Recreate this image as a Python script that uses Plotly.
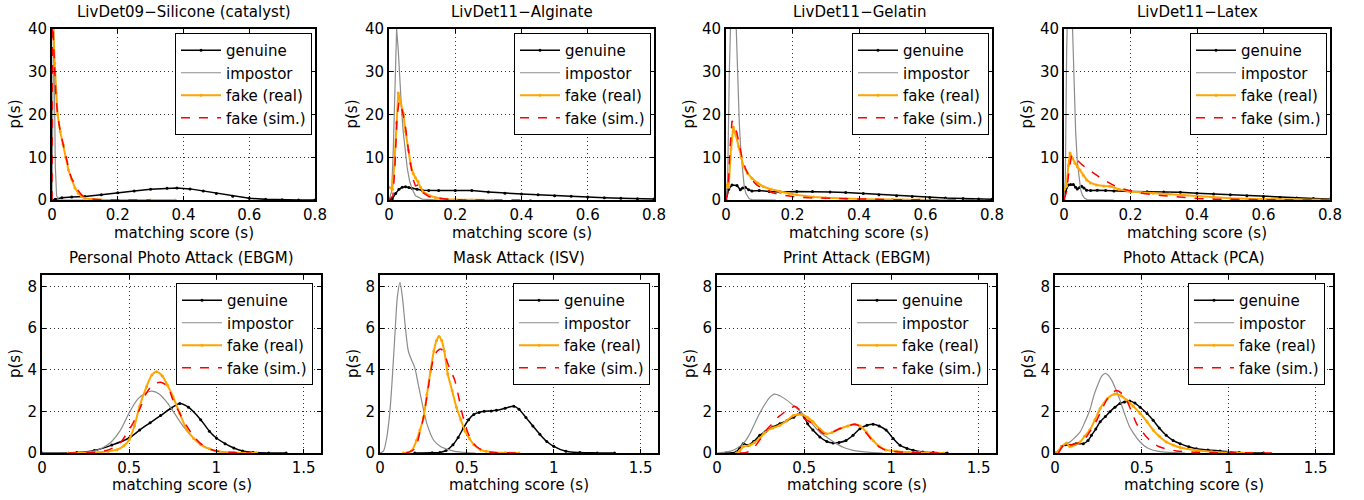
import plotly.graph_objects as go

# ---------------- DATA ----------------
titles = ["LivDet09−Silicone (catalyst)", "LivDet11−Alginate", "LivDet11−Gelatin", "LivDet11−Latex",
          "Personal Photo Attack (EBGM)", "Mask Attack (ISV)", "Print Attack (EBGM)", "Photo Attack (PCA)"]
series_names = ["genuine", "impostor", "fake (real)", "fake (sim.)"]
top_xticks = [0, 0.2, 0.4, 0.6, 0.8]
top_yticks = [0, 10, 20, 30, 40]
bot_xticks = [0, 0.5, 1, 1.5]
bot_yticks = [0, 2, 4, 6, 8]

# Panel 1: LivDet09-Silicone
p1_gen_x = [0, 0.01, 0.03, 0.06, 0.1, 0.15, 0.2, 0.25, 0.3, 0.35, 0.38, 0.42, 0.46, 0.5, 0.55, 0.6, 0.65, 0.7, 0.75, 0.8]
p1_gen_y = [0, 0.2, 0.5, 0.7, 0.8, 1.2, 1.7, 2.1, 2.5, 2.75, 2.8, 2.6, 2.1, 1.5, 0.9, 0.4, 0.15, 0.04, 0.01, 0]
p1_imp_x = [0, 0.003, 0.005, 0.007, 0.01, 0.014, 0.02, 0.1]
p1_imp_y = [0, 20, 45, 30, 8, 1, 0, 0]
p1_fr_x = [0, 0.003, 0.008, 0.012, 0.017, 0.025, 0.034, 0.042, 0.05, 0.06, 0.07, 0.08, 0.09, 0.1, 0.12, 0.15, 0.2, 0.3, 0.375]
p1_fr_y = [45, 42, 32, 25, 20, 16, 13, 10, 7, 4.8, 2.8, 1.6, 0.8, 0.4, 0.15, 0.05, 0, 0, 0]
p1_fs_x = [0, 0.001, 0.004, 0.008, 0.012, 0.017, 0.025, 0.034, 0.042, 0.05, 0.055, 0.06, 0.07, 0.08, 0.09, 0.1, 0.12, 0.15, 0.2, 0.3]
p1_fs_y = [0, 45, 38, 30, 24, 20, 16, 13, 10, 7.5, 6, 5, 3.5, 2.2, 1.2, 0.6, 0.25, 0.05, 0, 0]

# Panel 2: LivDet11-Alginate
p2_gen_x = [0, 0.01, 0.02, 0.03, 0.04, 0.05, 0.06, 0.07, 0.085, 0.1, 0.12, 0.15, 0.2, 0.25, 0.3, 0.35, 0.4, 0.45, 0.5, 0.55, 0.6, 0.65, 0.7, 0.75, 0.8]
p2_gen_y = [0, 0.3, 1.5, 2.5, 3.0, 3.1, 2.9, 2.7, 2.5, 2.3, 2.2, 2.2, 2.2, 2.2, 1.9, 1.6, 1.4, 1.2, 1.0, 0.85, 0.7, 0.55, 0.4, 0.3, 0.25]
p2_imp_x = [0, 0.008, 0.013, 0.018, 0.023, 0.028, 0.033, 0.038, 0.043, 0.048, 0.055, 0.062, 0.07, 0.08, 0.1, 0.15]
p2_imp_y = [0, 2, 12, 30, 40, 35, 27, 21, 16, 11.7, 7.5, 4.5, 2.5, 1.0, 0.2, 0]
p2_fr_x = [0, 0.01, 0.016, 0.022, 0.028, 0.035, 0.043, 0.05, 0.058, 0.065, 0.073, 0.08, 0.088, 0.095, 0.103, 0.113, 0.123, 0.14, 0.155, 0.175, 0.2, 0.25, 0.31]
p2_fr_y = [3, 2.5, 8, 18, 25, 23, 20.3, 16, 11.7, 8.5, 6.2, 5.2, 4.3, 3, 1.9, 1.4, 1.0, 0.6, 0.4, 0.2, 0.1, 0.02, 0]
p2_fs_x = [0, 0.012, 0.018, 0.024, 0.03, 0.036, 0.043, 0.05, 0.058, 0.065, 0.072, 0.08, 0.088, 0.095, 0.105, 0.12, 0.15, 0.18, 0.22, 0.3, 0.43]
p2_fs_y = [0, 1, 8, 19, 23, 22, 20, 17, 12, 8, 5, 3.3, 3.5, 2.5, 1.6, 0.8, 0.35, 0.15, 0.03, 0, 0]

# Panel 3: LivDet11-Gelatin
p3_gen_x = [0, 0.008, 0.018, 0.033, 0.043, 0.05, 0.058, 0.068, 0.078, 0.1, 0.13, 0.163, 0.213, 0.26, 0.313, 0.36, 0.413, 0.46, 0.513, 0.56, 0.613, 0.66, 0.713, 0.76, 0.8]
p3_gen_y = [0, 2.5, 3.5, 3.4, 2.4, 2.8, 3.0, 2.4, 2.1, 2.2, 2.0, 1.9, 2.0, 2.0, 1.9, 1.75, 1.5, 1.25, 1.0, 0.8, 0.6, 0.45, 0.35, 0.25, 0.2]
p3_imp_x = [0, 0.005, 0.01, 0.015, 0.02, 0.025, 0.03, 0.035, 0.04, 0.045, 0.05, 0.055, 0.06, 0.07, 0.08, 0.15]
p3_imp_y = [0, 5, 30, 55, 60, 55, 42, 28, 18, 11, 6, 3, 1.5, 0.3, 0.05, 0]
p3_fr_x = [0, 0.008, 0.015, 0.022, 0.03, 0.038, 0.045, 0.053, 0.065, 0.078, 0.095, 0.113, 0.135, 0.163, 0.19, 0.213, 0.24, 0.263, 0.3, 0.36, 0.42, 0.5, 0.58, 0.66]
p3_fr_y = [3.5, 3, 12, 17, 15, 12.5, 10, 7.8, 6.2, 5.1, 4, 3.1, 2.5, 1.9, 1.5, 1.2, 0.9, 0.7, 0.5, 0.3, 0.2, 0.12, 0.05, 0]
p3_fs_x = [0, 0.006, 0.012, 0.018, 0.025, 0.033, 0.04, 0.048, 0.058, 0.068, 0.08, 0.093, 0.108, 0.123, 0.14, 0.163, 0.19, 0.213, 0.25, 0.3, 0.35, 0.4, 0.5, 0.6, 0.7, 0.78]
p3_fs_y = [0, 2, 12, 18.5, 17.5, 15.6, 13, 10, 7.5, 5.8, 4.5, 3.5, 2.8, 2.3, 1.7, 1.2, 0.9, 0.7, 0.5, 0.4, 0.28, 0.2, 0.08, 0.03, 0.01, 0]

# Panel 4: LivDet11-Latex
p4_gen_x = [0, 0.005, 0.013, 0.02, 0.028, 0.035, 0.04, 0.047, 0.053, 0.06, 0.068, 0.08, 0.1, 0.125, 0.15, 0.2, 0.25, 0.3, 0.35, 0.4, 0.45, 0.5, 0.55, 0.6, 0.65, 0.7, 0.75, 0.8]
p4_gen_y = [0, 2, 3.5, 3.6, 3.6, 3.0, 2.6, 2.9, 3.2, 2.8, 2.3, 2.2, 2.3, 2.2, 2.1, 2.0, 1.95, 1.9, 1.8, 1.6, 1.4, 1.2, 1.0, 0.8, 0.6, 0.45, 0.35, 0.25]
p4_imp_x = [0, 0.004, 0.008, 0.012, 0.016, 0.02, 0.025, 0.03, 0.035, 0.04, 0.045, 0.05, 0.055, 0.062, 0.07, 0.15]
p4_imp_y = [0, 5, 35, 60, 62, 55, 42, 28, 16, 9, 5, 2.5, 1.2, 0.4, 0.1, 0]
p4_fr_x = [0, 0.008, 0.013, 0.018, 0.025, 0.033, 0.04, 0.048, 0.058, 0.068, 0.08, 0.098, 0.12, 0.138, 0.165, 0.198, 0.23, 0.268, 0.318, 0.36, 0.4, 0.45, 0.5, 0.55, 0.6, 0.7, 0.8]
p4_fr_y = [2.4, 3.3, 8, 11, 9.8, 8.6, 7.8, 7, 5.8, 4.7, 4.0, 3.5, 3.3, 3.2, 2.5, 2.0, 1.8, 1.6, 1.4, 1.2, 0.9, 0.6, 0.4, 0.3, 0.2, 0.1, 0.05]
p4_fs_x = [0, 0.008, 0.015, 0.023, 0.033, 0.043, 0.055, 0.068, 0.083, 0.098, 0.113, 0.128, 0.148, 0.168, 0.19, 0.218, 0.24, 0.268, 0.3, 0.33, 0.36, 0.4, 0.45, 0.5, 0.6, 0.7, 0.8]
p4_fs_y = [0, 2, 7, 10.5, 9.8, 9, 8.2, 7.4, 6.5, 5.8, 5, 4.3, 3.5, 2.8, 2.3, 1.8, 1.5, 1.2, 1.0, 0.8, 0.6, 0.35, 0.2, 0.1, 0.05, 0.02, 0]

# Panel 5: Personal Photo Attack (EBGM)
p5_gen_x = [0, 0.2, 0.3, 0.4, 0.5, 0.56, 0.62, 0.68, 0.74, 0.79, 0.84, 0.91, 0.96, 1.0, 1.05, 1.1, 1.15, 1.21, 1.3, 1.4]
p5_gen_y = [0, 0.02, 0.12, 0.38, 0.72, 1.1, 1.45, 1.8, 2.15, 2.38, 2.2, 1.6, 1.05, 0.72, 0.45, 0.24, 0.1, 0.03, 0.005, 0]
p5_imp_x = [0, 0.2, 0.29, 0.34, 0.39, 0.45, 0.5, 0.55, 0.6, 0.63, 0.67, 0.72, 0.76, 0.81, 0.86, 0.91, 0.96, 1.0, 1.1, 1.2]
p5_imp_y = [0, 0.01, 0.08, 0.22, 0.48, 1.1, 1.93, 2.6, 2.9, 2.97, 2.85, 2.4, 1.9, 1.28, 0.8, 0.4, 0.18, 0.08, 0.01, 0]
p5_fr_x = [0.15, 0.3, 0.38, 0.43, 0.47, 0.5, 0.53, 0.56, 0.6, 0.63, 0.657, 0.69, 0.72, 0.75, 0.79, 0.83, 0.87, 0.91, 0.96, 1.0, 1.1, 1.23]
p5_fr_y = [0, 0.02, 0.08, 0.16, 0.35, 0.64, 1.3, 2.25, 3.2, 3.75, 3.9, 3.7, 3.25, 2.73, 1.9, 1.12, 0.7, 0.4, 0.2, 0.1, 0.02, 0]
p5_fs_x = [0.15, 0.3, 0.38, 0.43, 0.46, 0.485, 0.52, 0.56, 0.6, 0.64, 0.68, 0.72, 0.75, 0.79, 0.83, 0.87, 0.91, 0.96, 1.0, 1.1, 1.2]
p5_fs_y = [0, 0.03, 0.15, 0.35, 0.6, 0.93, 1.4, 2.1, 2.9, 3.3, 3.4, 3.2, 2.57, 1.9, 1.3, 0.8, 0.45, 0.2, 0.1, 0.02, 0]

# Panel 6: Mask Attack (ISV)
p6_gen_x = [0.2, 0.3, 0.345, 0.38, 0.42, 0.45, 0.48, 0.51, 0.54, 0.57, 0.6, 0.64, 0.67, 0.72, 0.77, 0.8, 0.84, 0.88, 0.92, 0.96, 1.0, 1.07, 1.15, 1.25, 1.35]
p6_gen_y = [0, 0.01, 0.03, 0.12, 0.4, 0.75, 1.2, 1.6, 1.85, 1.95, 2.0, 2.02, 2.05, 2.15, 2.25, 2.1, 1.7, 1.3, 0.9, 0.55, 0.32, 0.08, 0.02, 0.005, 0]
p6_imp_x = [0, 0.02, 0.04, 0.057, 0.07, 0.086, 0.1, 0.115, 0.13, 0.144, 0.163, 0.18, 0.2, 0.22, 0.24, 0.27, 0.31, 0.35, 0.38, 0.43, 0.5, 0.55]
p6_imp_y = [0, 0.1, 0.8, 2.0, 3.5, 5.7, 7.5, 8.2, 7.4, 6.2, 4.9, 4.5, 4.1, 3.3, 2.5, 1.4, 0.6, 0.3, 0.2, 0.08, 0.02, 0]
p6_fr_x = [0.134, 0.18, 0.21, 0.23, 0.25, 0.27, 0.29, 0.31, 0.325, 0.34, 0.355, 0.37, 0.39, 0.415, 0.44, 0.465, 0.49, 0.515, 0.54, 0.58, 0.61, 0.66, 0.72, 0.8]
p6_fr_y = [0, 0.1, 0.6, 1.1, 1.7, 2.8, 3.9, 4.9, 5.4, 5.6, 5.4, 4.9, 3.8, 3.0, 2.2, 1.6, 1.05, 0.7, 0.4, 0.15, 0.08, 0.03, 0.01, 0]
p6_fs_x = [0.15, 0.2, 0.23, 0.25, 0.27, 0.29, 0.31, 0.33, 0.35, 0.37, 0.39, 0.41, 0.43, 0.45, 0.47, 0.5, 0.52, 0.55, 0.6, 0.65, 0.72, 0.8]
p6_fs_y = [0, 0.2, 1.0, 1.7, 2.7, 3.8, 4.6, 4.9, 5.0, 4.8, 4.3, 3.9, 3.5, 2.8, 2.0, 1.1, 0.72, 0.35, 0.1, 0.03, 0.01, 0]

# Panel 7: Print Attack (EBGM)
p7_gen_x = [0.05, 0.11, 0.13, 0.15, 0.178, 0.21, 0.245, 0.28, 0.32, 0.36, 0.4, 0.44, 0.475, 0.5, 0.52, 0.55, 0.59, 0.63, 0.666, 0.7, 0.74, 0.78, 0.82, 0.86, 0.895, 0.93, 0.97, 1.01, 1.05, 1.09, 1.125, 1.18, 1.24, 1.32]
p7_gen_y = [0, 0.05, 0.25, 0.45, 0.37, 0.55, 0.85, 1.05, 1.25, 1.4, 1.55, 1.72, 1.9, 1.75, 1.4, 1.1, 0.77, 0.55, 0.48, 0.5, 0.6, 0.85, 1.17, 1.33, 1.38, 1.3, 1.1, 0.7, 0.37, 0.22, 0.13, 0.05, 0.02, 0]
p7_imp_x = [0, 0.073, 0.11, 0.15, 0.18, 0.207, 0.235, 0.264, 0.3, 0.33, 0.36, 0.4, 0.45, 0.49, 0.54, 0.59, 0.64, 0.685, 0.73, 0.78, 0.877, 0.95]
p7_imp_y = [0, 0.08, 0.2, 0.45, 0.8, 1.25, 1.75, 2.2, 2.65, 2.83, 2.75, 2.54, 2.2, 1.9, 1.45, 1.0, 0.7, 0.45, 0.25, 0.13, 0.03, 0]
p7_fr_x = [0.11, 0.13, 0.15, 0.187, 0.215, 0.245, 0.27, 0.29, 0.32, 0.36, 0.4, 0.437, 0.465, 0.485, 0.52, 0.55, 0.59, 0.627, 0.66, 0.704, 0.75, 0.79, 0.82, 0.857, 0.895, 0.933, 0.97, 1.03, 1.1, 1.16, 1.3]
p7_fr_y = [0, 0.1, 0.3, 0.37, 0.5, 0.7, 0.95, 1.1, 1.2, 1.33, 1.55, 1.8, 1.85, 1.85, 1.7, 1.5, 1.15, 0.93, 0.98, 1.17, 1.3, 1.38, 1.3, 1.0, 0.6, 0.3, 0.15, 0.08, 0.04, 0.02, 0]
p7_fs_x = [0.13, 0.17, 0.197, 0.23, 0.26, 0.283, 0.31, 0.34, 0.37, 0.4, 0.425, 0.446, 0.47, 0.494, 0.52, 0.55, 0.58, 0.61, 0.65, 0.7, 0.75, 0.79, 0.82, 0.857, 0.895, 0.933, 0.97, 1.03, 1.1, 1.2, 1.3]
p7_fs_y = [0, 0.03, 0.13, 0.45, 0.8, 1.1, 1.35, 1.65, 1.85, 2.05, 2.15, 2.25, 2.1, 1.7, 1.55, 1.4, 1.15, 0.93, 0.97, 1.15, 1.3, 1.38, 1.28, 0.95, 0.55, 0.28, 0.13, 0.06, 0.03, 0.01, 0]

# Panel 8: Photo Attack (PCA)
p8_gen_x = [0, 0.01, 0.038, 0.06, 0.086, 0.12, 0.163, 0.19, 0.21, 0.235, 0.26, 0.29, 0.316, 0.345, 0.374, 0.4, 0.43, 0.46, 0.49, 0.53, 0.565, 0.6, 0.64, 0.68, 0.72, 0.77, 0.814, 0.88, 0.95, 1.06, 1.2]
p8_gen_y = [0, 0, 0.3, 0.4, 0.37, 0.45, 0.45, 0.6, 0.85, 1.15, 1.5, 1.75, 1.98, 2.2, 2.38, 2.45, 2.5, 2.4, 2.2, 1.9, 1.57, 1.2, 0.85, 0.6, 0.45, 0.3, 0.2, 0.14, 0.1, 0.03, 0]
p8_imp_x = [0, 0.01, 0.048, 0.086, 0.115, 0.144, 0.17, 0.2, 0.225, 0.25, 0.27, 0.287, 0.305, 0.326, 0.35, 0.374, 0.4, 0.43, 0.46, 0.49, 0.53, 0.565, 0.62, 0.66, 0.75]
p8_imp_y = [0, 0.05, 0.37, 0.53, 0.75, 1.0, 1.45, 2.05, 2.8, 3.35, 3.7, 3.82, 3.75, 3.5, 3.05, 2.54, 1.9, 1.25, 0.85, 0.53, 0.25, 0.13, 0.05, 0.03, 0]
p8_fr_x = [0.01, 0.038, 0.067, 0.086, 0.115, 0.144, 0.17, 0.2, 0.23, 0.26, 0.3, 0.345, 0.38, 0.412, 0.45, 0.49, 0.53, 0.565, 0.6, 0.64, 0.68, 0.72, 0.814, 0.9, 1.0, 1.13]
p8_fr_y = [0, 0.3, 0.48, 0.3, 0.4, 0.53, 0.8, 1.1, 1.6, 2.14, 2.6, 2.83, 2.75, 2.54, 2.25, 1.9, 1.5, 1.1, 0.8, 0.53, 0.38, 0.26, 0.13, 0.06, 0.02, 0]
p8_fs_x = [0.02, 0.045, 0.067, 0.09, 0.12, 0.15, 0.18, 0.21, 0.24, 0.27, 0.297, 0.325, 0.354, 0.385, 0.412, 0.44, 0.47, 0.5, 0.527, 0.56, 0.6, 0.65, 0.7, 0.8, 0.9, 1.05, 1.26]
p8_fs_y = [0, 0.35, 0.53, 0.4, 0.45, 0.55, 0.77, 1.15, 1.57, 2.1, 2.54, 2.85, 3.0, 2.85, 2.54, 2.0, 1.4, 1.05, 0.77, 0.5, 0.3, 0.18, 0.1, 0.04, 0.02, 0.01, 0]

panels = [
    [(p1_gen_x, p1_gen_y), (p1_imp_x, p1_imp_y), (p1_fr_x, p1_fr_y), (p1_fs_x, p1_fs_y)],
    [(p2_gen_x, p2_gen_y), (p2_imp_x, p2_imp_y), (p2_fr_x, p2_fr_y), (p2_fs_x, p2_fs_y)],
    [(p3_gen_x, p3_gen_y), (p3_imp_x, p3_imp_y), (p3_fr_x, p3_fr_y), (p3_fs_x, p3_fs_y)],
    [(p4_gen_x, p4_gen_y), (p4_imp_x, p4_imp_y), (p4_fr_x, p4_fr_y), (p4_fs_x, p4_fs_y)],
    [(p5_gen_x, p5_gen_y), (p5_imp_x, p5_imp_y), (p5_fr_x, p5_fr_y), (p5_fs_x, p5_fs_y)],
    [(p6_gen_x, p6_gen_y), (p6_imp_x, p6_imp_y), (p6_fr_x, p6_fr_y), (p6_fs_x, p6_fs_y)],
    [(p7_gen_x, p7_gen_y), (p7_imp_x, p7_imp_y), (p7_fr_x, p7_fr_y), (p7_fs_x, p7_fs_y)],
    [(p8_gen_x, p8_gen_y), (p8_imp_x, p8_imp_y), (p8_fr_x, p8_fr_y), (p8_fs_x, p8_fs_y)],
]

# ---------------- STYLE / LAYOUT ----------------
W, H = 1364, 500
FONT = "DejaVu Sans"
FS = 15
styles = [
    dict(color="black", width=1.5, dash="solid", marker=True),
    dict(color="#8c8c8c", width=1.2, dash="solid", marker=False),
    dict(color="#FFA500", width=2, dash="solid", marker=True),
    dict(color="#FF0000", width=1.5, dash="dash", marker=False),
]
# axis boxes in pixels (left, right, top, bottom)
boxes = [(52, 315, 29, 200), (389, 654, 29, 200), (726, 992, 29, 200), (1064, 1330, 29, 200),
         (42, 321, 275, 453), (380, 658, 275, 453), (717, 996, 275, 453), (1055, 1333, 275, 453)]

fig = go.Figure()
annotations = []
layout = dict(width=W, height=H, margin=dict(l=0, r=0, t=0, b=0, autoexpand=False),
              paper_bgcolor="white", plot_bgcolor="white",
              font=dict(family=FONT, size=FS, color="black"), showlegend=True)

for i, (curves, box) in enumerate(zip(panels, boxes)):
    k = i + 1
    sfx = "" if k == 1 else str(k)
    leg = "legend" if k == 1 else f"legend{k}"
    top = i < 4
    for (xs, ys), name, st in zip(curves, series_names, styles):
        fig.add_trace(go.Scatter(
            x=xs, y=ys, name=name, xaxis="x" + sfx, yaxis="y" + sfx, legend=leg,
            mode="lines+markers" if st["marker"] else "lines",
            marker=dict(size=3, color=st["color"]),
            line=dict(color=st["color"], width=st["width"], dash=st["dash"],
                      shape="linear" if top else "spline", smoothing=0.8),
        ))
    l, r, t, b = box
    xd = [l / W, r / W]
    yd = [1 - b / H, 1 - t / H]
    ax_common = dict(showline=True, linecolor="black", linewidth=1.8, mirror="ticks",
                     ticks="inside", ticklen=4, tickcolor="black", tickwidth=1,
                     showgrid=True, griddash="1px,3px", gridcolor="#333", gridwidth=1,
                     zeroline=False, tickfont=dict(family=FONT, size=FS, color="black"))
    layout["xaxis" + sfx] = dict(ax_common, domain=xd, anchor="y" + sfx,
                                 range=[0, 0.8] if top else [0, 1.6],
                                 tickvals=top_xticks if top else bot_xticks,
                                 ticktext=[("%g" % v) for v in (top_xticks if top else bot_xticks)])
    layout["yaxis" + sfx] = dict(ax_common, domain=yd, anchor="x" + sfx,
                                 range=[0, 40] if top else [0, 8.55],
                                 tickvals=top_yticks if top else bot_yticks)
    # legend box
    leg_right = r - (3 if top else 8)
    leg_top = t + (4 if top else 8)
    layout[leg] = dict(x=leg_right / W, y=1 - leg_top / H, xanchor="right", yanchor="top",
                       bgcolor="white", bordercolor="black", borderwidth=1,
                       font=dict(family=FONT, size=FS, color="black"),
                       tracegroupgap=0, itemwidth=40)
    cx = (l + r) / 2 / W
    title_y = 12 if top else 258
    xl_y = 233 if top else 485
    yl_y = (t + b) / 2
    yl_x = (l - 37) if top else (l - 27)
    annotations.append(dict(text=titles[i], x=cx, y=1 - title_y / H, xref="paper", yref="paper",
                            showarrow=False, xanchor="center", yanchor="middle",
                            font=dict(family=FONT, size=FS, color="black")))
    annotations.append(dict(text="matching score (s)", x=cx, y=1 - xl_y / H, xref="paper", yref="paper",
                            showarrow=False, xanchor="center", yanchor="middle",
                            font=dict(family=FONT, size=FS, color="black")))
    annotations.append(dict(text="p(s)", x=yl_x / W, y=1 - yl_y / H, xref="paper", yref="paper",
                            showarrow=False, xanchor="center", yanchor="middle", textangle=-90,
                            font=dict(family=FONT, size=FS, color="black")))

layout["annotations"] = annotations
fig.update_layout(**layout)
fig.write_html("out.html", config={"displayModeBar": False},
               post_script="document.body.style.margin='0px';document.body.style.padding='0px';")
